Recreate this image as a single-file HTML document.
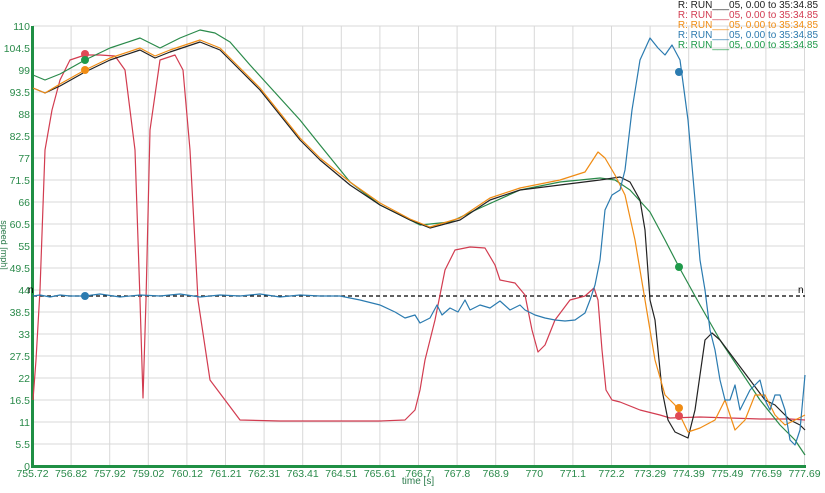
<!DOCTYPE html>
<html><head><style>
body{margin:0;background:#fff;width:825px;height:488px;overflow:hidden}
svg{font-family:"Liberation Sans",sans-serif}
</style></head><body>
<svg width="825" height="488" viewBox="0 0 825 488" xmlns="http://www.w3.org/2000/svg">
<g stroke="#d8d8d8" stroke-width="1" id="grid"></g>
<g id="labels" font-size="10.5" fill="#2a8a4a"></g>
<line x1="32.5" y1="26" x2="32.5" y2="467" stroke="#1f8f44" stroke-width="3"/>
<line x1="31" y1="466.5" x2="806" y2="466.5" stroke="#1f8f44" stroke-width="3"/>
<line x1="33" y1="296" x2="805" y2="296" stroke="#000" stroke-dasharray="4,3" stroke-width="1.2"/>
<text x="28" y="293" font-size="10" fill="#000">n</text>
<text x="798" y="293" font-size="10" fill="#000">n</text>
<text x="418" y="484" font-size="10" fill="#2a7a4a" text-anchor="middle">time [s]</text>
<text transform="translate(1,245) rotate(90)" font-size="9" fill="#2a7a4a" text-anchor="middle">speed [mph]</text>
<g fill="none" stroke-width="1.2" stroke-linejoin="round">
<polyline stroke="#d23c50" points="33,400 36,360 40,290 45,150 52,110 60,80 70,60 85,55 100,55 115,56 125,70 135,150 140,300 143,398 146,300 150,130 160,60 175,55 183,70 190,150 198,300 210,380 225,400 240,420 280,421 330,421 380,421 405,420 415,410 420,390 425,360 435,320 445,270 455,250 470,247 485,248 495,265 500,280 515,283 525,295 532,330 538,352 545,345 555,320 570,300 585,296 594,288 598,300 602,350 606,390 612,400 620,402 640,410 660,415 670,418 700,417 730,418 760,419 790,419 805,420"/>
<polyline stroke="#2a8a4a" points="33,75 45,80 60,74 85,60 110,48 140,38 160,48 180,38 200,30 215,33 230,42 250,65 270,87 300,120 320,145 350,182 380,205 420,225 450,222 480,208 520,190 560,182 600,178 615,180 630,190 650,212 665,240 679,267 700,305 720,340 740,370 760,400 780,425 795,440 805,455"/>
<polyline stroke="#222" points="33,88 45,93 60,86 85,72 110,60 140,50 155,58 170,52 200,42 220,50 240,70 260,90 280,115 300,140 320,160 350,185 380,205 410,220 430,228 460,220 490,200 520,190 560,185 600,180 620,177 630,182 640,200 645,230 650,300 655,320 662,390 668,420 675,432 688,438 695,410 705,340 712,333 720,340 735,360 750,380 765,400 775,405 790,420 800,425 805,430"/>
<polyline stroke="#f08c14" points="33,88 45,93 60,84 85,70 110,58 140,48 155,56 170,50 200,40 220,48 240,68 260,88 280,113 300,138 320,158 350,182 380,203 410,219 430,227 460,218 490,198 520,188 560,180 585,172 598,152 605,158 615,175 625,195 635,240 645,300 655,360 665,395 675,405 688,432 700,428 715,420 725,400 735,430 745,420 755,395 765,395 775,415 785,425 795,420 805,415"/>
<polyline stroke="#2b7bb0" points="33,296 40,295 50,297 60,295 70,296 85,296 100,294 120,297 140,295 160,296 180,294 200,297 220,295 240,296 260,294 280,297 300,295 320,296 340,296 360,300 380,305 395,312 405,318 415,315 420,323 430,318 437,305 442,315 450,308 458,312 465,300 470,310 480,305 490,308 500,301 510,310 520,305 525,310 535,315 545,318 555,320 565,321 575,320 585,313 590,300 595,285 600,260 605,210 612,195 620,190 625,170 632,110 640,60 650,38 658,48 665,55 672,45 680,60 688,120 695,200 700,260 705,290 710,330 715,350 720,380 725,400 730,400 735,385 740,410 745,400 750,390 755,385 760,380 765,400 770,410 775,395 780,395 785,410 790,440 795,445 800,430 805,375"/>
</g>
<g>
<circle cx="85" cy="54" r="4" fill="#e04a55"/>
<circle cx="85" cy="60" r="4" fill="#1f9a4a"/>
<circle cx="85" cy="70" r="4" fill="#f08c14"/>
<circle cx="85" cy="296" r="4" fill="#2b7bb0"/>
<circle cx="679" cy="72" r="4" fill="#2b7bb0"/>
<circle cx="679" cy="267" r="4" fill="#1f9a4a"/>
<circle cx="679" cy="408" r="4" fill="#f08c14"/>
<circle cx="679" cy="416" r="4" fill="#e04a55"/>
</g>
<g font-size="10" text-anchor="end">
<text x="818" y="8" fill="#222">R: RUN___05, 0.00 to 35:34.85</text>
<text x="818" y="18" fill="#d23c50">R: RUN___05, 0.00 to 35:34.85</text>
<text x="818" y="28" fill="#f08c14">R: RUN___05, 0.00 to 35:34.85</text>
<text x="818" y="38" fill="#2b7bb0">R: RUN___05, 0.00 to 35:34.85</text>
<text x="818" y="48" fill="#1f9a4a">R: RUN___05, 0.00 to 35:34.85</text>
</g>
<script>
var g=document.getElementById('grid'),L=document.getElementById('labels'),ns='http://www.w3.org/2000/svg';
var xl=['755.72','756.82','757.92','759.02','760.12','761.21','762.31','763.41','764.51','765.61','766.7','767.8','768.9','770','771.1','772.2','773.29','774.39','775.49','776.59','777.69'];
for(var i=0;i<=20;i++){var x=32.5+i*38.6;var l=document.createElementNS(ns,'line');l.setAttribute('x1',x);l.setAttribute('x2',x);l.setAttribute('y1',26);l.setAttribute('y2',466);g.appendChild(l);
var t=document.createElementNS(ns,'text');t.setAttribute('x',x);t.setAttribute('y',477);t.setAttribute('text-anchor','middle');t.textContent=xl[i];L.appendChild(t);
var y=466-i*22;var h=document.createElementNS(ns,'line');h.setAttribute('x1',33);h.setAttribute('x2',805);h.setAttribute('y1',y);h.setAttribute('y2',y);g.appendChild(h);
var v=document.createElementNS(ns,'text');v.setAttribute('x',30);v.setAttribute('y',y+4);v.setAttribute('text-anchor','end');var val=i*5.5;v.textContent=(Math.round(val*10)/10).toString();L.appendChild(v);}
</script>
</svg>
</body></html>
